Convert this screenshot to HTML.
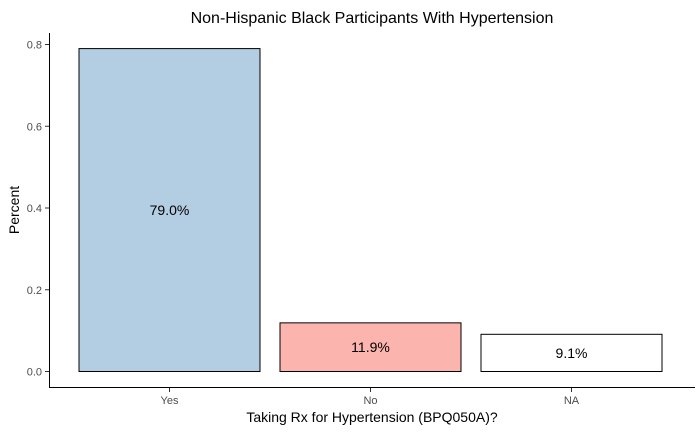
<!DOCTYPE html>
<html><head><meta charset="utf-8"><style>
body{margin:0;background:#fff;}
svg text{font-family:"Liberation Sans",Arial,sans-serif;}
</style></head><body>
<svg id="chart" width="700" height="432" xmlns="http://www.w3.org/2000/svg">
<rect width="700" height="432" fill="#fff"/>
<text x="372" y="23" font-size="16" text-anchor="middle" fill="#000">Non-Hispanic Black Participants With Hypertension</text>
<g id="plot"></g>
<line x1="49.5" y1="33" x2="49.5" y2="387.5" stroke="#000" stroke-width="1"/>
<line x1="49" y1="387.5" x2="695" y2="387.5" stroke="#000" stroke-width="1"/>
<text x="372" y="422" font-size="14" text-anchor="middle" fill="#000">Taking Rx for Hypertension (BPQ050A)?</text>
<text transform="translate(19,210) rotate(-90)" font-size="14" text-anchor="middle" fill="#000">Percent</text>
</svg>
<script>
const categories=["Yes","No","NA"];
const values=[0.790,0.119,0.091];
const labels=["79.0%","11.9%","9.1%"];
const colors=["#b3cde3","#fbb4ae","#ffffff"];
const yTicks=[0,0.2,0.4,0.6,0.8];
const yTickLabels=["0.0","0.2","0.4","0.6","0.8"];
const NS="http://www.w3.org/2000/svg";
const g=document.getElementById('plot');
function y(v){return 371.5-v*(371.5-44.5)/0.8;}
function xc(i){return 169.5+i*201;}
const bw=181;
function mk(t,a){const e=document.createElementNS(NS,t);for(const k in a)e.setAttribute(k,a[k]);g.appendChild(e);return e;}
yTicks.forEach((t,i)=>{
 const l=mk('line',{x1:45,x2:49.5,y1:y(t),y2:y(t),stroke:'#333'});
 
 
 const tx=mk('text',{x:42,y:y(t)+4,'font-size':11,'text-anchor':'end',fill:'#4d4d4d'});
 tx.textContent=yTickLabels[i];
 
 
});
categories.forEach((c,i)=>{
 const r=mk('rect',{x:xc(i)-bw/2,y:y(values[i]),width:bw,height:y(0)-y(values[i]),fill:colors[i],stroke:'#000','stroke-width':1});
 
 
 const vl=mk('text',{x:xc(i),y:(y(values[i])+y(0))/2+5,'font-size':14,'text-anchor':'middle',fill:'#000'});
 vl.textContent=labels[i];
 
 
 const tk=mk('line',{x1:xc(i),x2:xc(i),y1:387.5,y2:392,stroke:'#333'});
 
 
 const tl=mk('text',{x:xc(i),y:404,'font-size':11,'text-anchor':'middle',fill:'#4d4d4d'});
 tl.textContent=c;
 
 
});
</script>
</body></html>
